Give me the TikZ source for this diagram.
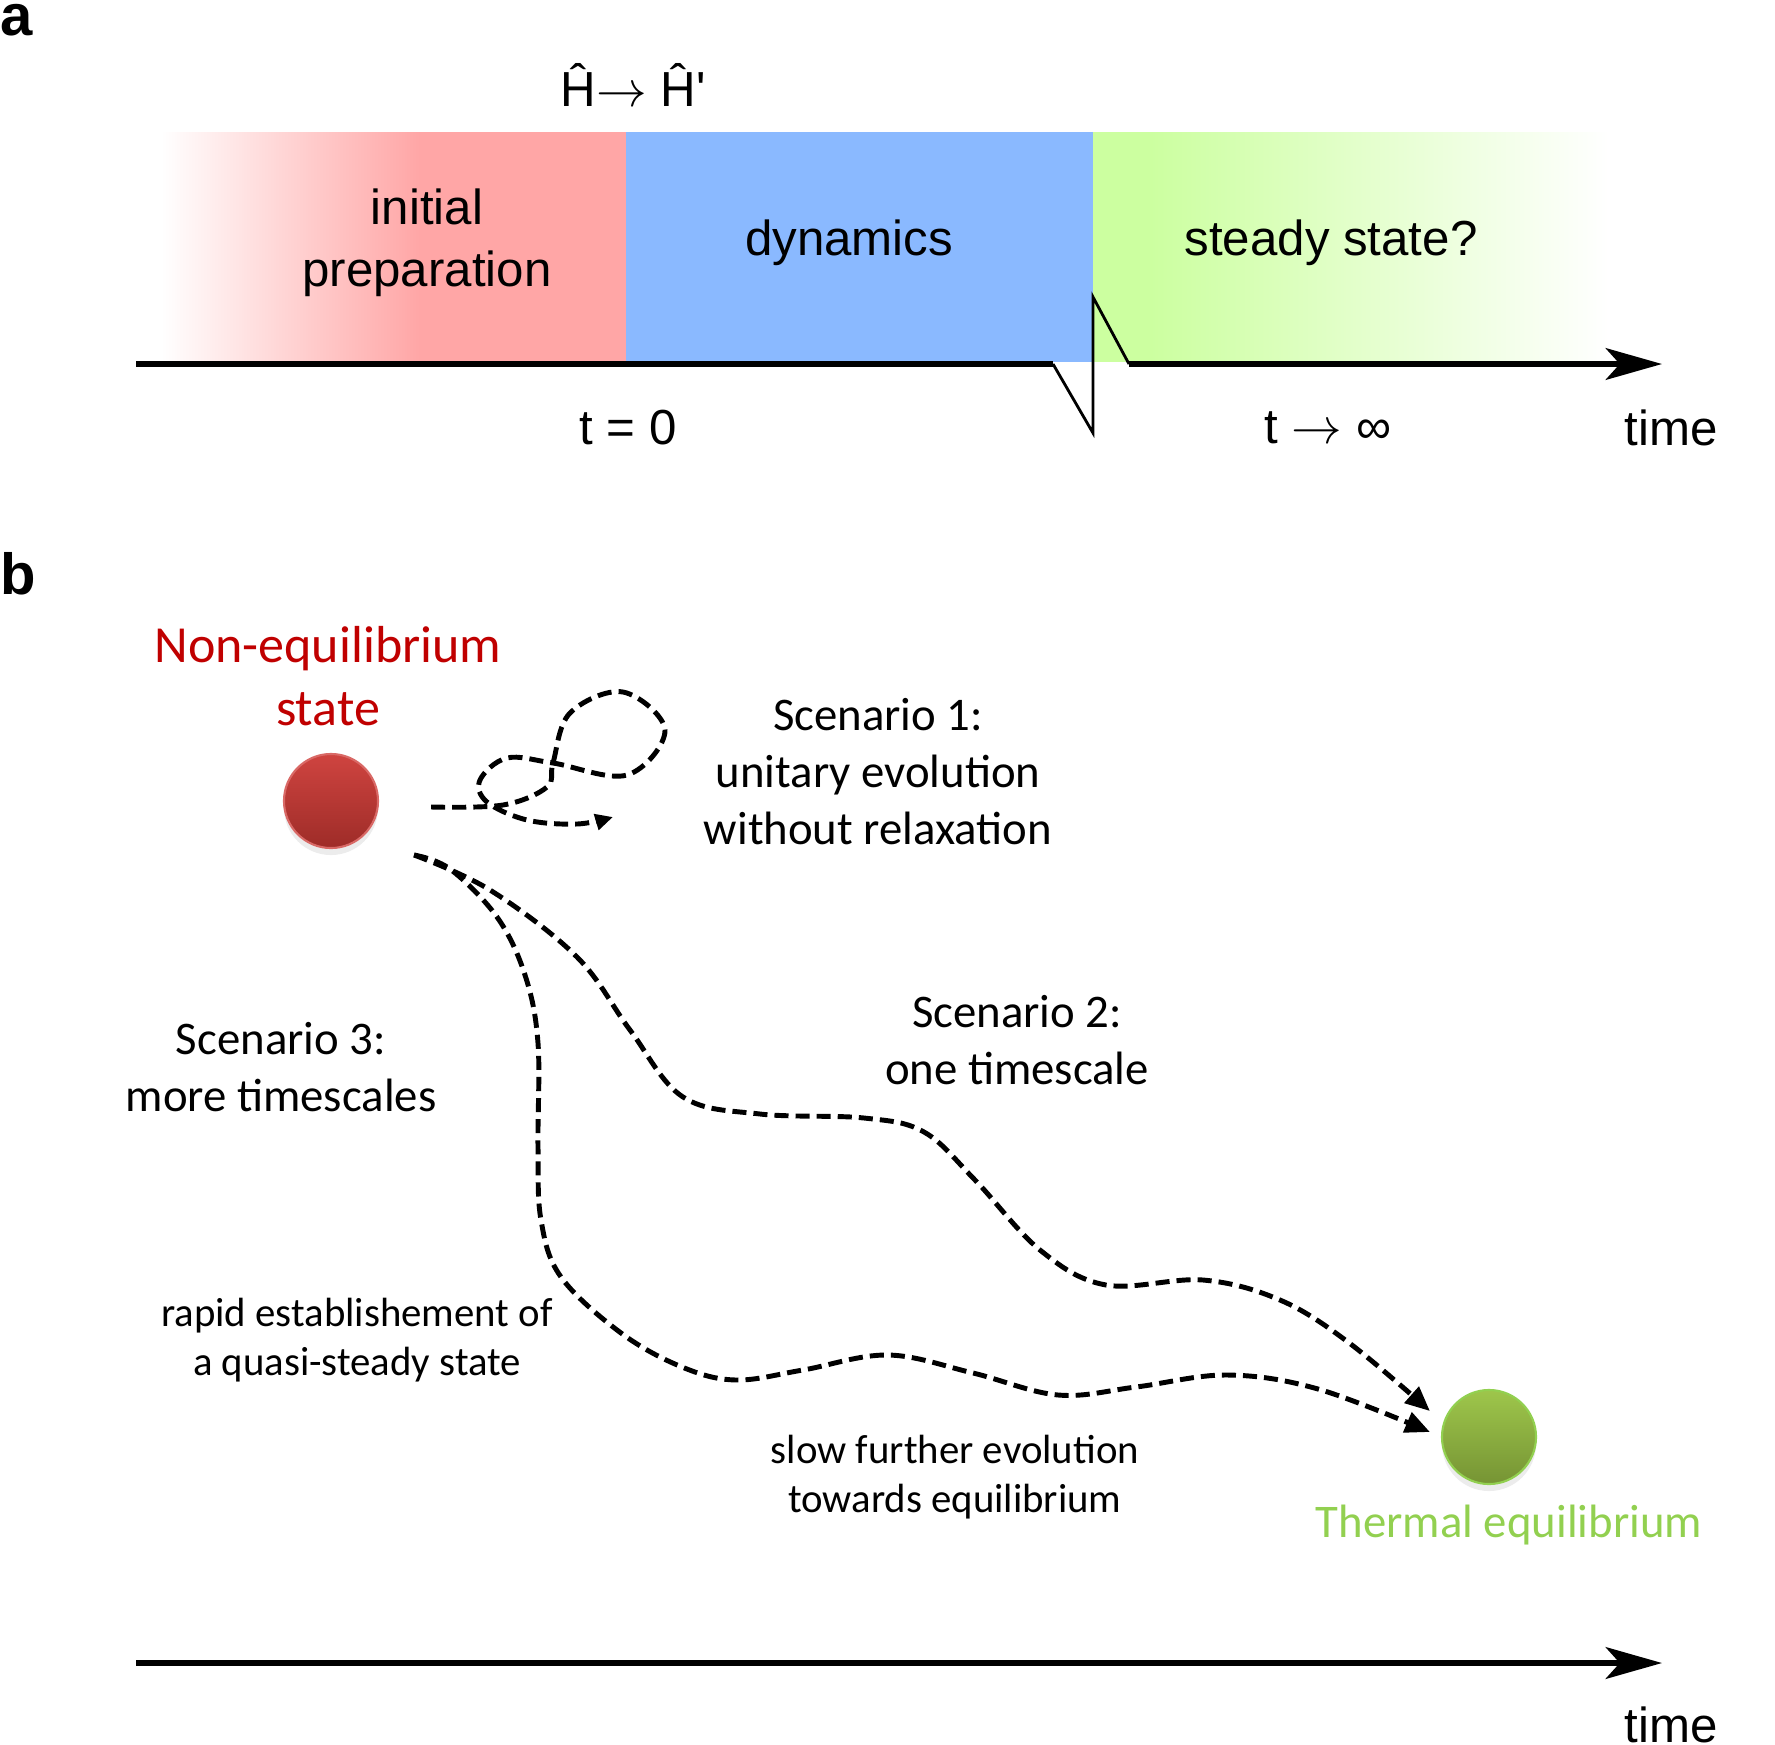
\documentclass[tikz,border=0pt]{standalone}
\usepackage{fontspec}
\setmainfont{Liberation Sans}
\newfontfamily\calib{Carlito}
\usetikzlibrary{arrows.meta,calc,shadows}

\definecolor{prepred}{RGB}{255,166,166}
\definecolor{dynblue}{RGB}{138,185,255}
\definecolor{steadygreen}{RGB}{204,255,160}
\definecolor{neqred}{RGB}{192,0,0}
\definecolor{thermgreen}{RGB}{146,208,80}
\definecolor{balltopred}{RGB}{207,68,64}
\definecolor{ballbotred}{RGB}{158,44,40}
\definecolor{balltopgreen}{RGB}{158,198,75}
\definecolor{ballbotgreen}{RGB}{118,148,52}

\tikzset{
  axisline/.style={line width=1.7pt},
  axisarrow/.style={axisline, -{Stealth[length=16pt,width=9pt,inset=4pt]}},
  evol/.style={line width=1.4pt, dash pattern=on 4pt off 2pt},
  lbl/.style={inner sep=0pt, align=center, font=\fontsize{14}{17.6}\selectfont},
  cal/.style={inner sep=0pt, align=center, font=\calib\fontsize{13.3}{16.2}\selectfont},
  calsmall/.style={inner sep=0pt, align=center, font=\calib\fontsize{11.6}{14.1}\selectfont},
  panel/.style={inner sep=0pt, anchor=base west, font=\bfseries\fontsize{16.5}{18}\selectfont},
  ball/.style={circle, minimum size=0.94cm, inner sep=0pt, line width=0.6pt,
               drop shadow={shadow xshift=0pt, shadow yshift=-2pt, opacity=0.15}}
}

\begin{document}
\begin{tikzpicture}[x=0.01cm, y=-0.01cm]
\useasboundingbox (0,0) rectangle (1775,1745);

% panel a
\node[panel] (pa) at (0,35) {a};

\shade[left color=white, right color=prepred] (161,132) rectangle (420,362);
\fill[prepred] (419,132) rectangle (627,362);
\fill[dynblue] (626,132) rectangle (1094,362);
\fill[steadygreen] (1093,132) rectangle (1151,362);
\shade[left color=steadygreen, right color=white] (1150,132) rectangle (1609,362);

\coordinate (ta0) at (136,364);
\coordinate (brkL) at (1053,364);
\coordinate (brkR) at (1129,364);
\coordinate (ta1) at (1662,364);
\draw[axisline] (ta0) -- (brkL);
\draw[line width=0.8pt] (brkL) -- (1093,433) -- (1093,297) -- (brkR);
\draw[axisarrow] (brkR) -- (ta1);

\node[lbl] (quench) at (633,85) {\^{H}$\rightarrow$ \^{H}\textquotesingle};
\node[lbl] (prep) at (427,243) {initial\\preparation};
\node[lbl] (dyn) at (849,243) {dynamics};
\node[lbl] (steady) at (1331,243) {steady state?};
\node[lbl] (tzero) at (628,428) {t = 0};
\node[lbl] (tinf) at (1328,428) {t $\rightarrow$ ∞};
\node[lbl] (timea) at (1671,428) {time};

% panel b
\node[panel] (pb) at (0,594) {b};

\node[ball, top color=balltopred, bottom color=ballbotred, draw=balltopred!80!white] (neqball) at (331,801) {};
\node[ball, top color=balltopgreen, bottom color=ballbotgreen, draw=thermgreen] (eqball) at (1489,1437) {};

\node[cal, text=neqred, font=\calib\fontsize{14.8}{17.7}\selectfont] (neqlbl) at (328,676) {Non-equilibrium\\state};
\node[cal, text=thermgreen] (eqlbl) at (1509,1525) {Thermal equilibrium};
\node[cal] (sc1) at (878,772) {Scenario 1:\\unitary evolution\\without relaxation};
\node[cal] (sc2) at (1017,1040) {Scenario 2:\\one timescale};
\node[cal] (sc3) at (281,1067) {Scenario 3:\\more timescales};
\node[calsmall] (rapid) at (357,1340) {rapid establishement of\\a quasi-steady state};
\node[calsmall] (slow) at (955,1477) {slow further evolution\\towards equilibrium};

\coordinate (s1a) at ($(neqball.east)+(52,6)$);
\coordinate (s23a) at ($(neqball.east)+(35,54)$);
\coordinate (s2b) at ($(eqball.west)+(-11,-26)$);
\coordinate (s3b) at ($(eqball.west)+(-11,-5)$);

% scenario 1: loop
\draw[evol, -{Triangle[length=5pt,width=4.5pt]}] plot[smooth, tension=0.6] coordinates
  {(s1a) (503,805) (547,787) (553,763) (570,713) (623,692) (665,730) (627,775)
   (553,763) (507,758) (480,780) (487,802) (527,820) (577,824) (613,817)};
% scenario 2
\draw[evol, -{Triangle[length=7pt,width=6pt]}] plot[smooth, tension=0.6] coordinates
  {(s23a) (490,890) (577,957) (630,1030) (683,1097) (760,1114) (864,1118) (924,1132)
   (975,1180) (1040,1250) (1106,1285) (1203,1280) (1280,1300) (1348,1342) (s2b)};
% scenario 3
\draw[evol, -{Triangle[length=7pt,width=6pt]}] plot[smooth, tension=0.6] coordinates
  {(s23a) (450,869) (497,917) (525,975) (538,1043) (538,1147) (541,1220) (561,1277)
   (621,1333) (682,1367) (736,1380) (803,1370) (888,1355) (973,1373) (1058,1395)
   (1136,1387) (1227,1375) (1318,1389) (s3b)};

\coordinate (tb0) at (136,1663);
\coordinate (tb1) at (1662,1663);
\draw[axisarrow] (tb0) -- (tb1);
\node[lbl] (timeb) at (1671,1725) {time};

\end{tikzpicture}
\end{document}
